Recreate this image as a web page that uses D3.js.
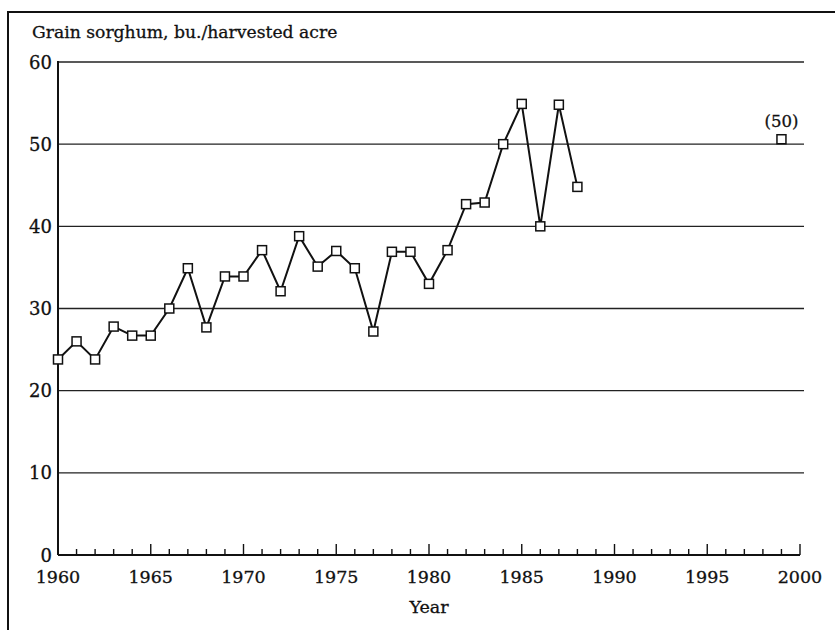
<!DOCTYPE html>
<html>
<head>
<meta charset="utf-8">
<script src="https://cdn.jsdelivr.net/npm/d3@7"></script>
<style>
  body { margin: 0; background: #fff; }
  svg text { font-family: "DejaVu Serif", "Liberation Serif", serif; fill: #111; stroke: #111; stroke-width: 0.3px; }
</style>
</head>
<body>
<div id="chart"></div>
<script>
// Grain sorghum yields
const years = [1960, 1961, 1962, 1963, 1964, 1965, 1966, 1967, 1968, 1969,
               1970, 1971, 1972, 1973, 1974, 1975, 1976, 1977, 1978, 1979,
               1980, 1981, 1982, 1983, 1984, 1985, 1986, 1987, 1988];
const yields = [23.8, 26.0, 23.8, 27.8, 26.7, 26.7, 30.0, 34.9, 27.7, 33.9,
                33.9, 37.1, 32.1, 38.8, 35.1, 37.0, 34.9, 27.2, 36.9, 36.9,
                33.0, 37.1, 42.7, 42.9, 50.0, 54.9, 40.0, 54.8, 44.8];
// projected point
const projYear = [1999];
const projValue = [50.6];
const projLabel = ["(50)"];

const yTicks = [0, 10, 20, 30, 40, 50, 60];
const xLabels = [1960, 1965, 1970, 1975, 1980, 1985, 1990, 1995, 2000];

const W = 835, H = 630;
const margin = {left: 58, right: 35, top: 62, bottom: 75};

const svg = d3.select("#chart").append("svg")
    .attr("width", W).attr("height", H);

// frame (top and left only, as in the scan)
svg.append("path")
    .attr("d", `M8,${H} L8,12 L${W},12`)
    .attr("fill", "none").attr("stroke", "#111").attr("stroke-width", 2);

const x = d3.scaleLinear().domain([1960, 2000]).range([margin.left, W - margin.right]);
const y = d3.scaleLinear().domain([0, 60]).range([H - margin.bottom, margin.top]);

// horizontal grid
svg.append("g")
  .selectAll("line")
  .data(yTicks.filter(d => d > 0))
  .enter().append("line")
    .attr("x1", margin.left).attr("x2", x(2000) + 4)
    .attr("y1", d => y(d)).attr("y2", d => y(d))
    .attr("stroke", "#222").attr("stroke-width", 1.4);

// y axis
svg.append("line")
    .attr("x1", margin.left).attr("x2", margin.left)
    .attr("y1", y(0)).attr("y2", y(60) - 1)
    .attr("stroke", "#111").attr("stroke-width", 2);
svg.append("g")
  .selectAll("text")
  .data(yTicks)
  .enter().append("text")
    .attr("x", margin.left - 6)
    .attr("y", d => y(d) + 6.5)
    .attr("text-anchor", "end")
    .attr("font-size", 18)
    .text(d => d);

// x axis line with inward ticks
svg.append("line")
    .attr("x1", margin.left).attr("x2", x(2000))
    .attr("y1", y(0)).attr("y2", y(0))
    .attr("stroke", "#111").attr("stroke-width", 2);
svg.append("g")
  .selectAll("line")
  .data(d3.range(1961, 2001))
  .enter().append("line")
    .attr("x1", d => x(d)).attr("x2", d => x(d))
    .attr("y1", y(0))
    .attr("y2", d => y(0) - (d % 5 === 0 ? 11 : 6))
    .attr("stroke", "#111").attr("stroke-width", 1.4);
svg.append("g")
  .selectAll("text")
  .data(xLabels)
  .enter().append("text")
    .attr("x", d => x(d))
    .attr("y", y(0) + 28)
    .attr("text-anchor", "middle")
    .attr("font-size", 17.5)
    .text(d => d);

// titles
svg.append("text")
    .attr("x", 32).attr("y", 38)
    .attr("font-size", 17.2)
    .text("Grain sorghum, bu./harvested acre");
svg.append("text")
    .attr("x", (x(1960) + x(2000)) / 2).attr("y", 613)
    .attr("text-anchor", "middle")
    .attr("font-size", 17.5)
    .text("Year");

// data line
const pts = years.map((yr, i) => [yr, yields[i]]);
svg.append("path")
    .datum(pts)
    .attr("fill", "none").attr("stroke", "#111").attr("stroke-width", 2)
    .attr("d", d3.line().x(d => x(d[0])).y(d => y(d[1])));

const s = 9;
svg.append("g")
  .selectAll("rect")
  .data(pts.concat(projYear.map((yr, i) => [yr, projValue[i]])))
  .enter().append("rect")
    .attr("x", d => x(d[0]) - s / 2).attr("y", d => y(d[1]) - s / 2)
    .attr("width", s).attr("height", s)
    .attr("fill", "#fff").attr("stroke", "#111").attr("stroke-width", 1.5);

svg.append("text")
    .attr("x", x(projYear[0])).attr("y", y(projValue[0]) - 12)
    .attr("text-anchor", "middle")
    .attr("font-size", 16.5)
    .text(projLabel[0]);
</script>
</body>
</html>
